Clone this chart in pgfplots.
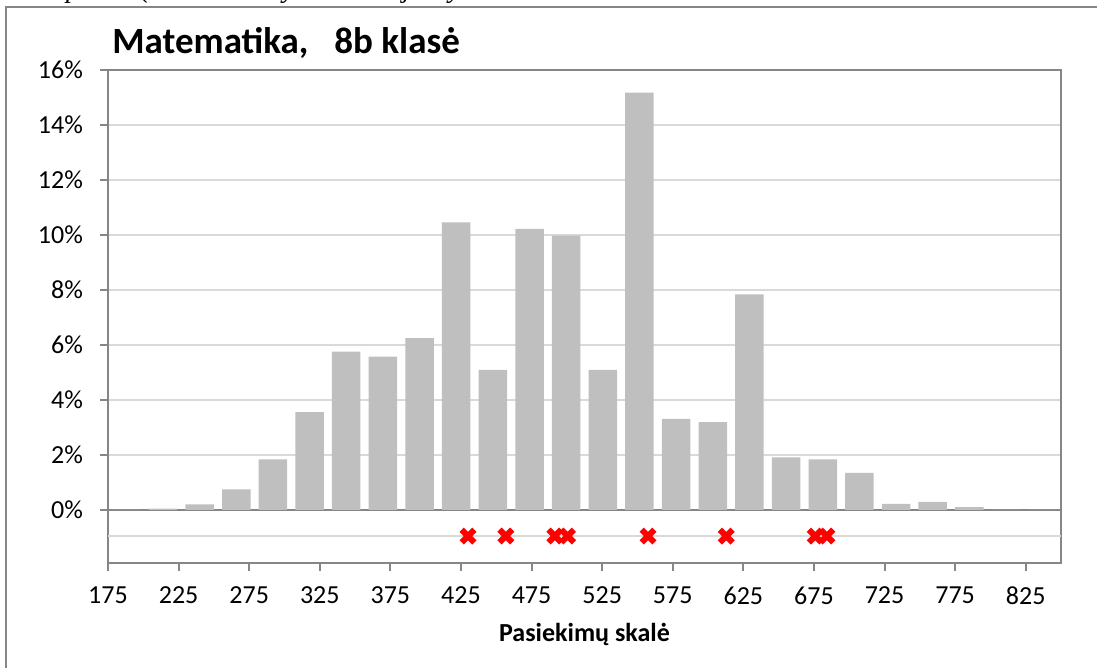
\documentclass[border=0pt]{standalone}
\usepackage{fontspec}
\setmainfont{Carlito}
\newfontfamily\serifit{Liberation Serif}
\usepackage{pgfplots}
\pgfplotsset{compat=1.18}
\definecolor{barg}{HTML}{BFBFBF}
\definecolor{gridg}{HTML}{D9D9D9}
\definecolor{axisg}{HTML}{868686}
\pgfplotstableread{
x      y
188.0  0.0
213.9  0.05
239.9  0.2
265.9  0.75
291.8  1.84
317.8  3.56
343.7  5.76
369.7  5.58
395.7  6.25
421.6  10.46
447.6  5.09
473.6  10.22
499.5  9.98
525.5  5.09
551.4  15.18
577.4  3.31
603.4  3.19
629.3  7.84
655.3  1.91
681.3  1.84
707.2  1.35
733.2  0.22
759.1  0.29
785.1  0.10
811.1  0.0
837.0  0.0
}\bars
\pgfplotstableread{
x      y
430.0  -0.95
456.8  -0.95
491.5  -0.95
500.5  -0.95
557.5  -0.95
612.9  -0.95
675.9  -0.95
684.2  -0.95
}\marks
\begin{document}
\begin{tikzpicture}[x=1pt,y=1pt]
\useasboundingbox (0pt,0pt) rectangle (548.5pt,334pt);
\begin{scope}
\clip (0pt,330.5pt) rectangle (548.5pt,334pt);
\node[anchor=base, inner sep=0, font=\serifit\itshape\fontsize{14}{16}\selectfont] at (36.5pt,335pt) {p};
\node[anchor=base, inner sep=0, font=\serifit\itshape\fontsize{14}{16}\selectfont] at (72.5pt,335pt) {(};
\node[anchor=base, inner sep=0, font=\serifit\itshape\fontsize{14}{16}\selectfont] at (144.5pt,335pt) {y};
\node[anchor=base, inner sep=0, font=\serifit\itshape\fontsize{14}{16}\selectfont] at (203.5pt,335pt) {j};
\node[anchor=base, inner sep=0, font=\serifit\itshape\fontsize{14}{16}\selectfont] at (227.5pt,335pt) {y};
\end{scope}
\draw[axisg, line width=1pt] (2.75pt,0pt) -- (2.75pt,330.5pt) -- (548.5pt,330.5pt);
\node[anchor=base west, inner sep=0, font=\bfseries\fontsize{18.5}{22}\selectfont] at (56pt,307pt) {Matematika,\hspace{13pt}8b klasė};
\begin{axis}[
  at={(54pt,52.5pt)}, anchor=south west,
  width=476.5pt, height=246.5pt, scale only axis,
  xmin=175, xmax=850, ymin=-1.93, ymax=16,
  xtick={175,225,...,825}, ytick={0,2,...,16},
  yticklabel={\pgfmathprintnumber{\tick}\%},
  ymajorgrids, major grid style={gridg, line width=0.75pt},
  tick align=outside, tick pos=left, major tick length=4pt,
  tick style={axisg, line width=1pt},
  axis line style={axisg, line width=1pt},
  /pgf/number format/assume math mode=true,
  tick label style={font=\fontsize{13}{15}\selectfont},
  yticklabel style={xshift=-5pt},
  xticklabel style={yshift=-4.5pt},
  xlabel={Pasiekimų skalė},
  xlabel style={font=\bfseries\fontsize{13}{15}\selectfont, yshift=-2pt},
]
\draw[gridg, line width=0.75pt] (axis cs:175,-0.95) -- (axis cs:850,-0.95);
\draw[axisg, line width=1pt] (axis cs:175,0) -- (axis cs:850,0);
\addplot[ybar, bar width=20.2, bar shift=0pt, fill=barg, draw=none] table[x=x, y=y] {\bars};
\addplot[only marks, mark=x, mark size=4.5pt, color=red, line width=3pt] table[x=x, y=y] {\marks};
\end{axis}
\end{tikzpicture}
\end{document}
